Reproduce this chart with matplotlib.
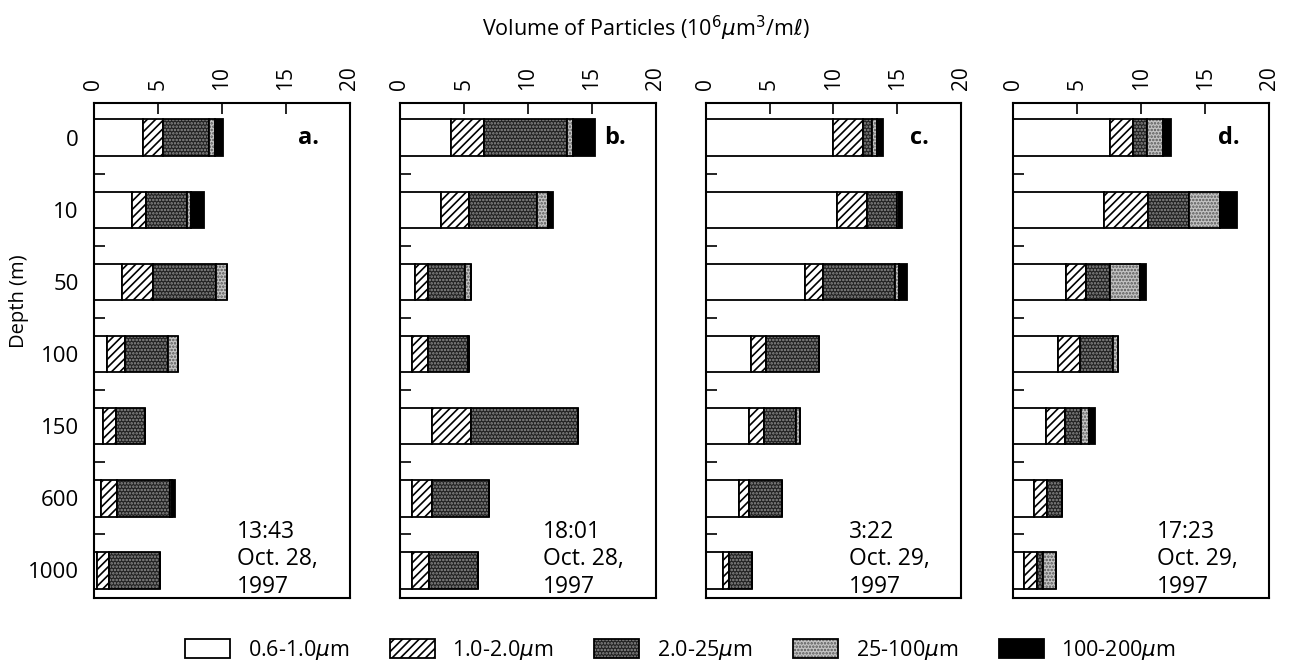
import matplotlib
matplotlib.use('Agg')
import matplotlib.pyplot as plt
from matplotlib.patches import Patch
from matplotlib.legend_handler import HandlerTuple
import numpy as np

plt.rcParams['font.family'] = ['Open Sans', 'DejaVu Sans']
plt.rcParams['hatch.linewidth'] = 1.2
plt.rcParams['mathtext.fontset'] = 'dejavusans'

# Depth rows
depths = ['0', '10', '50', '100', '150', '600', '1000']
size_classes = ['0.6-1.0$\\mu$m', '1.0-2.0$\\mu$m', '2.0-25$\\mu$m',
                '25-100$\\mu$m', '100-200$\\mu$m']

# Particle volume per size class (10^6 um^3/ml), one row per depth:
# [0.6-1.0, 1.0-2.0, 2.0-25, 25-100, 100-200]
vol_a = [[3.85, 1.52, 3.63, 0.45, 0.65],
         [2.94, 1.16, 3.20, 0.30, 1.00],
         [2.16, 2.47, 4.90, 0.84, 0.00],
         [0.99, 1.43, 3.38, 0.80, 0.00],
         [0.68, 1.04, 2.26, 0.00, 0.00],
         [0.52, 1.30, 4.13, 0.15, 0.20],
         [0.26, 0.94, 3.96, 0.00, 0.00]]
vol_b = [[4.02, 2.59, 6.49, 0.44, 1.71],
         [3.24, 2.16, 5.29, 0.93, 0.33],
         [1.17, 1.03, 2.86, 0.52, 0.00],
         [0.96, 1.24, 3.10, 0.10, 0.00],
         [2.47, 3.11, 8.37, 0.00, 0.00],
         [0.91, 1.56, 4.48, 0.00, 0.00],
         [0.91, 1.37, 3.82, 0.00, 0.00]]
vol_c = [[9.94, 2.36, 0.68, 0.39, 0.47],
         [10.25, 2.35, 2.40, 0.10, 0.25],
         [7.80, 1.36, 5.68, 0.26, 0.66],
         [3.53, 1.23, 4.07, 0.00, 0.00],
         [3.40, 1.18, 2.49, 0.31, 0.00],
         [2.62, 0.78, 2.58, 0.00, 0.00],
         [1.37, 0.47, 1.78, 0.00, 0.00]]
vol_d = [[7.52, 1.86, 1.06, 1.26, 0.60],
         [7.05, 3.44, 3.23, 2.45, 1.29],
         [4.10, 1.61, 1.81, 2.38, 0.46],
         [3.51, 1.68, 2.58, 0.39, 0.00],
         [2.56, 1.47, 1.29, 0.59, 0.45],
         [1.57, 1.03, 1.17, 0.00, 0.00],
         [0.85, 0.99, 0.51, 0.98, 0.00]]

panel_letters = ['a.', 'b.', 'c.', 'd.']
panel_times = ['13:43\nOct. 28,\n1997', '18:01\nOct. 28,\n1997',
               '3:22\nOct. 29,\n1997', '17:23\nOct. 29,\n1997']

# fill styles for the size classes (hatch drawn in hatch_cols, outline black)
faces = ['white', 'white', '#222222', '#c4c4c4', 'black']
hatch_cols = ['black', 'black', '#8f8f8f', '#555555', 'black']
hatches = [None, '////', '.....', '.....', None]

fig = plt.figure(figsize=(12.91, 6.70), dpi=100)
lefts = [0.0728, 0.3098, 0.5466, 0.785]
w, bottom, h = 0.198, 0.107, 0.740

y = np.arange(len(depths))
for k, vols in enumerate([vol_a, vol_b, vol_c, vol_d]):
    ax = fig.add_axes([lefts[k], bottom, w, h])
    vols = np.array(vols)
    left = np.zeros(len(depths))
    for j in range(vols.shape[1]):
        ax.barh(y, vols[:, j], left=left, height=0.51, color=faces[j],
                edgecolor=hatch_cols[j], linewidth=0, hatch=hatches[j])
        ax.barh(y, vols[:, j], left=left, height=0.51, color='none',
                edgecolor='black', linewidth=1.3)
        left = left + vols[:, j]
    ax.set_xlim(0, 20)
    ax.set_ylim(6.39, -0.49)
    ax.xaxis.tick_top()
    ax.set_xticks([0, 5, 10, 15, 20])
    ax.tick_params(axis='x', direction='in', length=8, width=1.2,
                   labelsize=15, labelrotation=90, pad=9)
    ax.set_yticks(y)
    ax.set_yticks(y[:-1] + 0.5, minor=True)
    if k == 0:
        ax.set_yticklabels(depths)
        ax.set_ylabel('Depth (m)', fontsize=14.5)
        ax.yaxis.set_label_coords(-0.255, 0.6)
    else:
        ax.set_yticklabels([])
    ax.tick_params(axis='y', which='major', length=0, labelsize=16, pad=11)
    ax.tick_params(axis='y', which='minor', direction='in', length=8, width=1.2)
    for s in ax.spines.values():
        s.set_linewidth(1.5)
    ax.text(16.0, 0, panel_letters[k], fontsize=17, fontweight='bold',
            va='center', ha='left')
    ax.text(11.2, 6.4, panel_times[k], fontsize=16.5, va='bottom', ha='left',
            linespacing=1.2)

fig.text(0.5, 0.958, 'Volume of Particles (10$^{6}$$\\mu$m$^{3}$/m$\\ell$)',
         ha='center', va='center', fontsize=15.5)

handles = []
for j in range(5):
    fill = Patch(facecolor=faces[j], edgecolor=hatch_cols[j], hatch=hatches[j],
                 linewidth=0)
    edge = Patch(facecolor='none', edgecolor='black', linewidth=1.3)
    handles.append((fill, edge))
fig.legend(handles, size_classes, loc='center', bbox_to_anchor=(0.527, 0.03),
           ncol=5, frameon=False, fontsize=15.5, handlelength=2.1,
           handleheight=1.0, columnspacing=1.9, handletextpad=0.8,
           handler_map={tuple: HandlerTuple(ndivide=1)})

plt.savefig('out.png', dpi=100)
